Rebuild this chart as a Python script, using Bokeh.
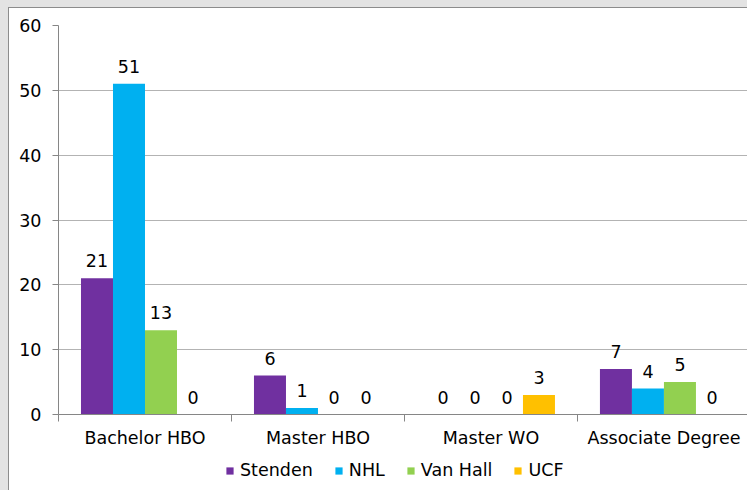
import numpy as np
from bokeh.plotting import figure
from bokeh.layouts import column
from bokeh.models import (ColumnDataSource, Range1d, FixedTicker, LabelSet,
                          Legend, LegendItem)
from bokeh.core.properties import value
from bokeh.transform import dodge
from bokeh.embed import file_html
from bokeh.resources import INLINE

categories = ["Bachelor HBO", "Master HBO", "Master WO", "Associate Degree"]
series = ["Stenden", "NHL", "Van Hall", "UCF"]
stenden = [21, 6, 0, 7]
nhl = [51, 1, 0, 4]
van_hall = [13, 0, 0, 5]
ucf = [0, 0, 3, 0]
colors = ["#7030A0", "#00B0F0", "#92D050", "#FFC000"]
y_ticks = [0, 10, 20, 30, 40, 50, 60]

FONT = "DejaVu Sans"
FS = "17.5px"

centers = np.arange(len(categories)) + 0.5
values = [stenden, nhl, van_hall, ucf]

p = figure(width=747, height=454, output_backend="svg", toolbar_location=None,
           x_range=Range1d(0, 3.983), y_range=Range1d(0, 60),
           min_border_left=58, min_border_right=0, min_border_top=25,
           min_border_bottom=40)
p.outline_line_color = None
p.background_fill_color = "white"
p.border_fill_alpha = 0

# legend strip below the chart (bars there fall outside its view)
lf = figure(width=747, height=36, output_backend="svg", toolbar_location=None,
            x_range=p.x_range, y_range=Range1d(1000, 1001),
            x_axis_location=None, y_axis_location=None, min_border=0)
lf.outline_line_color = None
lf.background_fill_alpha = 0
lf.border_fill_alpha = 0
lf.xgrid.visible = False
lf.ygrid.visible = False

bar_w = 0.185
items = []
for i, (name, vals, col) in enumerate(zip(series, values, colors)):
    src = ColumnDataSource(dict(x=centers, top=vals, lab=[str(v) for v in vals]))
    off = (i - 1.5) * bar_w
    p.vbar(x=dodge("x", off), top="top", width=bar_w, source=src,
           fill_color=col, line_color=None)
    r2 = lf.vbar(x=dodge("x", off), top="top", width=bar_w, source=src,
                 fill_color=col, line_color=None)
    items.append(LegendItem(label=name, renderers=[r2]))
    labels = LabelSet(x=dodge("x", off), y="top", text="lab", source=src,
                      text_align="center", text_baseline="bottom", y_offset=11,
                      text_font=value(FONT), text_font_size=value(FS),
                      text_color="#000000")
    p.add_layout(labels)

# axes
p.xaxis.ticker = FixedTicker(ticks=list(centers),
                             minor_ticks=list(range(len(categories) + 1)))
p.xaxis.major_label_overrides = {float(c): cat for c, cat in zip(centers, categories)}
p.xaxis.major_tick_line_color = None
p.xaxis.major_tick_out = 0
p.xaxis.major_tick_in = 0
p.xaxis.minor_tick_in = 0
p.xaxis.minor_tick_out = 7
p.xaxis.minor_tick_line_color = "#868686"
p.xaxis.axis_line_color = "#868686"
p.xaxis.major_label_standoff = 6
p.xaxis.major_label_text_font = FONT
p.xaxis.major_label_text_font_size = FS
p.xaxis.major_label_text_color = "#000000"

p.yaxis.ticker = FixedTicker(ticks=y_ticks)
p.yaxis.major_tick_in = 0
p.yaxis.major_tick_out = 6
p.yaxis.minor_tick_line_color = None
p.yaxis.major_tick_line_color = "#868686"
p.yaxis.axis_line_color = "#868686"
p.yaxis.major_label_standoff = 11
p.yaxis.major_label_text_font = FONT
p.yaxis.major_label_text_font_size = FS
p.yaxis.major_label_text_color = "#000000"

p.xgrid.grid_line_color = None
p.ygrid.ticker = FixedTicker(ticks=y_ticks)
p.ygrid.grid_line_color = "#b3b3b3"

legend = Legend(items=items, orientation="horizontal", location=(167, 10),
                glyph_width=9, glyph_height=9, label_standoff=6, spacing=21,
                padding=0, margin=0, border_line_color=None,
                background_fill_alpha=0,
                label_text_font=FONT, label_text_font_size=FS,
                label_text_color="#000000")
lf.add_layout(legend, "center")

p.styles = {"background-color": "white",
            "box-shadow": "inset 8px 7px 0 0 #e3e3e3, inset 9px 8px 0 0 #8c8c8c"}
lf.styles = {"background-color": "white",
             "box-shadow": "inset 8px 0 0 0 #e3e3e3, inset 9px 0 0 0 #8c8c8c"}

layout = column(p, lf, spacing=0)
open("out.html", "w").write(file_html(layout, INLINE))
